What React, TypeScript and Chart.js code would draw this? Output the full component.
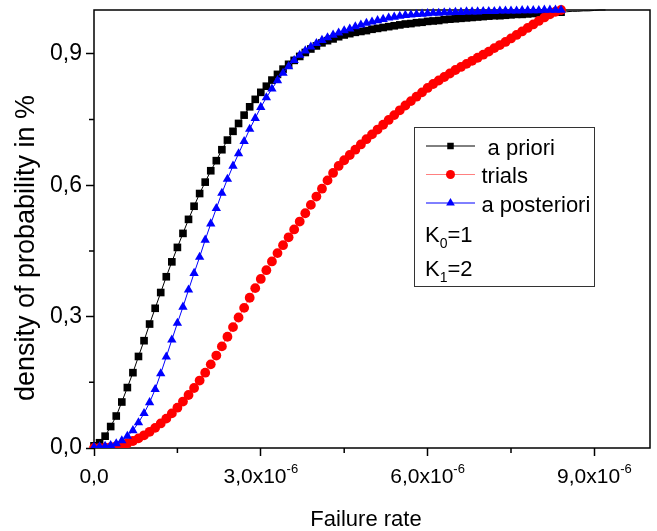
import React, { useEffect, useRef } from 'react';
import { Chart, registerables } from 'chart.js';

Chart.register(...registerables);

const FONT = '"Liberation Sans", Arial, Helvetica, sans-serif';

// Failure rate grid (x), step 1e-7
const failureRate = Array.from({ length: 93 }, (_, i) => i * 1e-7);

const aPriori = [
  0.005, 0.012, 0.027, 0.049, 0.073, 0.105, 0.138, 0.172, 0.209, 0.245,
  0.283, 0.319, 0.355, 0.391, 0.425, 0.458, 0.490, 0.522, 0.552, 0.581,
  0.607, 0.633, 0.656, 0.681, 0.703, 0.723, 0.741, 0.760, 0.779, 0.796,
  0.812, 0.826, 0.840, 0.853, 0.865, 0.876, 0.885, 0.894, 0.903, 0.911,
  0.918, 0.925, 0.930, 0.934, 0.939, 0.943, 0.946, 0.949, 0.951, 0.953,
  0.956, 0.958, 0.960, 0.962, 0.964, 0.966, 0.968, 0.969, 0.971, 0.972,
  0.974, 0.975, 0.976, 0.978, 0.979, 0.980, 0.981, 0.982, 0.983, 0.984,
  0.985, 0.986, 0.987, 0.987, 0.988, 0.989, 0.990, 0.990, 0.991, 0.992,
  0.993, 0.993, 0.994, 0.995, 0.995, 0.996, 0.997, 0.997, 0.998, 0.998,
  0.999, 1.000, 1.000,
];

const trials = [
  0.000, 0.000, 0.001, 0.002, 0.004, 0.007, 0.011, 0.016, 0.022, 0.029,
  0.037, 0.046, 0.056, 0.067, 0.079, 0.092, 0.106, 0.121, 0.137, 0.154,
  0.172, 0.191, 0.211, 0.232, 0.254, 0.276, 0.298, 0.320, 0.343, 0.365,
  0.386, 0.406, 0.426, 0.445, 0.463, 0.481, 0.499, 0.517, 0.536, 0.555,
  0.574, 0.592, 0.611, 0.628, 0.644, 0.657, 0.669, 0.681, 0.693, 0.705,
  0.716, 0.727, 0.738, 0.749, 0.760, 0.771, 0.782, 0.792, 0.802, 0.812,
  0.822, 0.831, 0.839, 0.847, 0.855, 0.863, 0.870, 0.877, 0.884, 0.891,
  0.898, 0.905, 0.913, 0.920, 0.927, 0.935, 0.943, 0.951, 0.959, 0.967,
  0.975, 0.983, 0.990, 0.996, 1.000,
];

const aPosteriori = [
  0.002, 0.003, 0.004, 0.006, 0.010, 0.017, 0.027, 0.040, 0.058, 0.079,
  0.104, 0.134, 0.170, 0.208, 0.247, 0.285, 0.322, 0.361, 0.399, 0.436,
  0.475, 0.512, 0.547, 0.582, 0.614, 0.644, 0.672, 0.700, 0.728, 0.753,
  0.778, 0.800, 0.820, 0.839, 0.856, 0.871, 0.885, 0.897, 0.907, 0.916,
  0.924, 0.931, 0.937, 0.943, 0.948, 0.953, 0.957, 0.962, 0.966, 0.970,
  0.973, 0.976, 0.979, 0.982, 0.984, 0.986, 0.988, 0.989, 0.990, 0.991,
  0.992, 0.993, 0.993, 0.994, 0.994, 0.995, 0.995, 0.996, 0.996, 0.996,
  0.997, 0.997, 0.997, 0.998, 0.998, 0.998, 0.998, 0.999, 0.999, 0.999,
  0.999, 1.000, 1.000, 1.000, 1.000,
];

const seriesNames = [' a priori', 'trials', 'a posteriori'];
const seriesColors = ['#000000', '#ff0000', '#0000ff'];
const seriesLineColors = ['#000000', '#ff8080', '#0000ff'];
const seriesMarkers = ['rect', 'circle', 'triangle'];
const paramLabels = [
  ['K', '0', '=1'],
  ['K', '1', '=2'],
];

const xMajorTicks = [0, 3e-6, 6e-6, 9e-6];
const xTickMantissa = ['0,0', '3,0x10', '6,0x10', '9,0x10'];
const xTickExponent = ['', '-6', '-6', '-6'];
const xMinorTicks = [1.5e-6, 4.5e-6, 7.5e-6];
const yMajorTicks = [0, 0.3, 0.6, 0.9];
const yTickLabels = ['0,0', '0,3', '0,6', '0,9'];
const yMinorTicks = [0.15, 0.45, 0.75];
const xTitle = 'Failure rate';
const yTitle = 'density of probability in %';

function drawMarker(ctx: CanvasRenderingContext2D, style: string, x: number, y: number, r: number, color: string) {
  ctx.fillStyle = color;
  ctx.beginPath();
  if (style === 'rect') {
    const s = Math.SQRT1_2 * r;
    ctx.rect(x - s, y - s, 2 * s, 2 * s);
  } else if (style === 'circle') {
    ctx.arc(x, y, r, 0, Math.PI * 2);
  } else {
    let rad = 0;
    ctx.moveTo(x + Math.sin(rad) * r, y - Math.cos(rad) * r);
    rad += (2 * Math.PI) / 3;
    ctx.lineTo(x + Math.sin(rad) * r, y - Math.cos(rad) * r);
    rad += (2 * Math.PI) / 3;
    ctx.lineTo(x + Math.sin(rad) * r, y - Math.cos(rad) * r);
    ctx.closePath();
  }
  ctx.fill();
}

const markerRadius = [5.4, 4.9, 5.4];
const legendMarkerRadius = [4.6, 4.5, 5.0];

const decorations = {
  id: 'decorations',
  beforeDatasetsDraw(chart: any) {
    const { ctx, chartArea: a } = chart;
    ctx.save();
    ctx.strokeStyle = '#000';
    ctx.lineWidth = 1.5;
    ctx.strokeRect(a.left, a.top, a.right - a.left, a.bottom - a.top);
    ctx.restore();
  },
  afterDraw(chart: any) {
    const { ctx, chartArea: a } = chart;
    const xs = chart.scales.x;
    const ys = chart.scales.y;
    ctx.save();

    // minor ticks
    ctx.strokeStyle = '#000';
    ctx.lineWidth = 1.5;
    ctx.beginPath();
    xMinorTicks.forEach((v) => {
      const px = xs.getPixelForValue(v);
      ctx.moveTo(px, a.bottom);
      ctx.lineTo(px, a.bottom + 5);
    });
    yMinorTicks.forEach((v) => {
      const py = ys.getPixelForValue(v);
      ctx.moveTo(a.left - 5, py);
      ctx.lineTo(a.left, py);
    });
    ctx.stroke();

    ctx.fillStyle = '#000';
    // y tick labels
    ctx.font = `23px ${FONT}`;
    ctx.textAlign = 'right';
    ctx.textBaseline = 'middle';
    yMajorTicks.forEach((v, k) => {
      ctx.fillText(yTickLabels[k], a.left - 12, ys.getPixelForValue(v));
    });

    // x tick labels with superscript exponent
    const mainFont = `21px ${FONT}`;
    const supFont = `13px ${FONT}`;
    ctx.textAlign = 'left';
    ctx.textBaseline = 'alphabetic';
    xMajorTicks.forEach((v, k) => {
      const px = xs.getPixelForValue(v);
      const m = xTickMantissa[k];
      const e = xTickExponent[k];
      ctx.font = mainFont;
      const wm = ctx.measureText(m).width;
      ctx.font = supFont;
      const we = e ? ctx.measureText(e).width : 0;
      const start = px - (wm + we) / 2;
      ctx.font = mainFont;
      ctx.fillText(m, start, a.bottom + 35);
      if (e) {
        ctx.font = supFont;
        ctx.fillText(e, start + wm, a.bottom + 25);
      }
    });

    // axis titles
    ctx.font = `22px ${FONT}`;
    ctx.textAlign = 'center';
    ctx.fillText(xTitle, 366, 526);
    ctx.save();
    ctx.translate(27, 248);
    ctx.rotate(-Math.PI / 2);
    ctx.font = `27px ${FONT}`;
    ctx.textBaseline = 'middle';
    ctx.fillText(yTitle, 0, 0);
    ctx.restore();

    // legend box
    ctx.strokeStyle = '#333';
    ctx.lineWidth = 1;
    ctx.strokeRect(414.5, 127.5, 180, 159);
    const rowY = [146, 174.5, 203];
    ctx.font = `22px ${FONT}`;
    ctx.textAlign = 'left';
    ctx.textBaseline = 'alphabetic';
    seriesNames.forEach((name, k) => {
      const y = rowY[k];
      ctx.strokeStyle = seriesLineColors[k];
      ctx.lineWidth = 1;
      ctx.beginPath();
      ctx.moveTo(426, y);
      ctx.lineTo(475, y);
      ctx.stroke();
      drawMarker(ctx, seriesMarkers[k], 450.5, y, legendMarkerRadius[k], seriesColors[k]);
      ctx.fillStyle = '#000';
      ctx.font = `22px ${FONT}`;
      ctx.fillText(name, 481.5, y + 8.5);
    });
    const paramBase = [241.7, 275.7];
    paramLabels.forEach((p, k) => {
      const base = paramBase[k];
      let x = 425;
      ctx.fillStyle = '#000';
      ctx.font = `22px ${FONT}`;
      ctx.fillText(p[0], x, base);
      x += ctx.measureText(p[0]).width;
      ctx.font = `14px ${FONT}`;
      ctx.fillText(p[1], x, base + 6.5);
      x += ctx.measureText(p[1]).width;
      ctx.font = `22px ${FONT}`;
      ctx.fillText(p[2], x, base);
    });

    ctx.restore();
  },
};

function toPoints(values: number[]) {
  return values.map((y, i) => ({ x: failureRate[i], y }));
}

export default function App() {
  const canvasRef = useRef<HTMLCanvasElement | null>(null);

  useEffect(() => {
    document.body.style.margin = '0';
    const canvas = canvasRef.current;
    if (!canvas) return;
    const seriesValues = [aPriori, trials, aPosteriori];
    const chart = new Chart(canvas, {
      type: 'line',
      data: {
        datasets: seriesValues.map((vals, k) => ({
          label: seriesNames[k],
          data: toPoints(vals),
          borderColor: seriesLineColors[k],
          backgroundColor: seriesColors[k],
          pointBackgroundColor: seriesColors[k],
          pointBorderWidth: 0,
          pointStyle: seriesMarkers[k] as any,
          pointRadius: k === 0 ? ((c: any) => (c.dataIndex > 84 ? 0 : markerRadius[0])) : markerRadius[k],
          borderWidth: 1,
          tension: 0,
          fill: false,
          order: 3 - k,
          clip: { left: 6, top: 6, right: 6, bottom: 0 } as any,
        })),
      },
      options: {
        responsive: false,
        animation: false,
        devicePixelRatio: 1,
        events: [],
        layout: { padding: { left: 0, top: 10, right: 7, bottom: 0 } },
        plugins: { legend: { display: false }, tooltip: { enabled: false } },
        scales: {
          x: {
            type: 'linear',
            min: 0,
            max: 1e-5,
            afterBuildTicks: (s: any) => {
              s.ticks = xMajorTicks.map((v) => ({ value: v }));
            },
            afterFit: (s: any) => {
              s.height = 83;
            },
            ticks: { display: false },
            grid: { drawOnChartArea: false, drawTicks: true, tickLength: 8, tickWidth: 1.5, tickColor: '#000', color: '#000' },
            border: { display: false },
            title: { display: false },
          },
          y: {
            type: 'linear',
            min: 0,
            max: 1.0,
            afterBuildTicks: (s: any) => {
              s.ticks = yMajorTicks.map((v) => ({ value: v }));
            },
            afterFit: (s: any) => {
              s.width = 94;
            },
            ticks: { display: false },
            grid: { drawOnChartArea: false, drawTicks: true, tickLength: 8, tickWidth: 1.5, tickColor: '#000', color: '#000' },
            border: { display: false },
            title: { display: false },
          },
        },
      },
      plugins: [decorations],
    });
    return () => chart.destroy();
  }, []);

  return (
    <div style={{ width: 657, height: 531 }}>
      <canvas ref={canvasRef} width={657} height={531} style={{ display: 'block' }} />
    </div>
  );
}
